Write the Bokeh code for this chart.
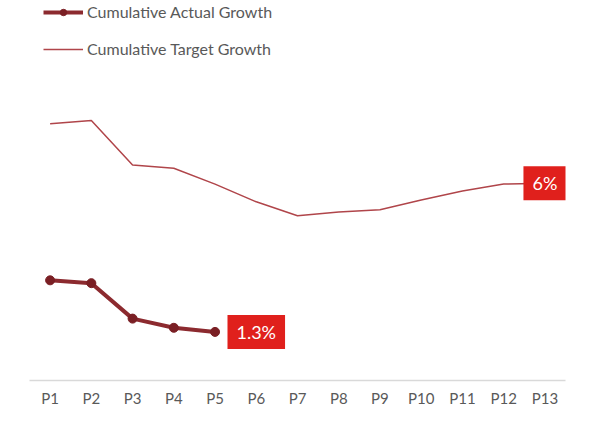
from bokeh.plotting import figure
from bokeh.models import Range1d, Legend, LegendItem, Label
from bokeh.embed import file_html
from bokeh.resources import INLINE

periods = ["P1", "P2", "P3", "P4", "P5", "P6", "P7", "P8", "P9", "P10", "P11", "P12", "P13"]
target = [7.88, 7.98, 6.57, 6.47, 5.97, 5.41, 4.97, 5.09, 5.16, 5.47, 5.75, 5.97, 6.0]
actual_periods = ["P1", "P2", "P3", "P4", "P5"]
actual = [2.93, 2.84, 1.72, 1.43, 1.3]

FONT = "Lato"
p = figure(x_range=periods, y_range=Range1d(-0.235, 11.77), width=574, height=409,
           output_backend="svg", toolbar_location=None,
           min_border_left=29, min_border_right=9, min_border_top=0, min_border_bottom=26)
p.outline_line_color = None
p.xgrid.visible = False
p.ygrid.visible = False
p.yaxis.visible = False
p.xaxis.axis_line_color = "#d9d9d9"
p.xaxis.axis_line_width = 1.5
p.xaxis.major_tick_line_color = None
p.xaxis.minor_tick_line_color = None
p.xaxis.major_tick_out = 0
p.xaxis.major_tick_in = 0
p.xaxis.major_label_text_color = "#595959"
p.xaxis.major_label_text_font = FONT
p.xaxis.major_label_text_font_size = "15px"
p.xaxis.major_label_standoff = 8

t_line = p.line(periods, target, line_color="#b0454a", line_width=1.5)
a_line = p.line(actual_periods, actual, line_color="#8c2a2f", line_width=4)
a_pts = p.scatter(actual_periods, actual, size=9, fill_color="#7a1f24", line_color="#7a1f24")

legend = Legend(items=[
    LegendItem(label="Cumulative Actual Growth", renderers=[a_line, a_pts]),
    LegendItem(label="Cumulative Target Growth", renderers=[t_line]),
], location=(14, 322), padding=0, margin=0, spacing=18, glyph_width=40,
    glyph_height=16, label_height=16, label_standoff=4,
    label_text_font=FONT, label_text_font_size="16px", label_text_color="#595959",
    border_line_color=None, background_fill_alpha=0)
p.add_layout(legend, "center")

for x, y, txt in [("P6", 1.3, "1.3%"), ("P13", 6.0, "6%")]:
    p.add_layout(Label(x=periods.index(x) + 0.5, y=y, text=txt, text_align="center",
                       text_baseline="middle", text_color="white", text_font=FONT,
                       text_font_size="18px", background_fill_color="#e0201c",
                       padding=(9, 6)))

open("out.html", "w").write(file_html(p, INLINE))
